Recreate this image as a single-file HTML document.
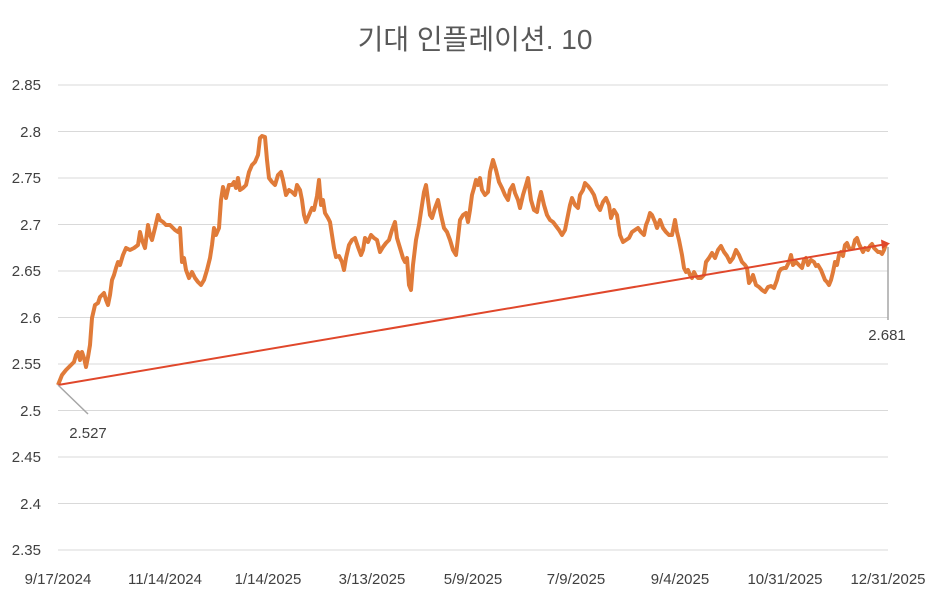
<!DOCTYPE html>
<html><head><meta charset="utf-8"><style>
body{margin:0;background:#fff;}
svg{display:block;font-family:"Liberation Sans","Noto Sans CJK KR",sans-serif;}
</style></head><body>
<svg width="950" height="602" viewBox="0 0 950 602">
<rect width="950" height="602" fill="#fff"/>
<text x="475" y="49" text-anchor="middle" font-size="28" fill="#595959">기대 인플레이션. 10</text>
<g stroke="#d9d9d9" stroke-width="1">
<line x1="58" x2="888" y1="85" y2="85"/><line x1="58" x2="888" y1="131.5" y2="131.5"/>
<line x1="58" x2="888" y1="178" y2="178"/><line x1="58" x2="888" y1="224.5" y2="224.5"/>
<line x1="58" x2="888" y1="271" y2="271"/><line x1="58" x2="888" y1="317.5" y2="317.5"/>
<line x1="58" x2="888" y1="364" y2="364"/><line x1="58" x2="888" y1="410.5" y2="410.5"/>
<line x1="58" x2="888" y1="457" y2="457"/><line x1="58" x2="888" y1="503.5" y2="503.5"/>
<line x1="58" x2="888" y1="550" y2="550"/>
</g>
<g font-size="15" fill="#404040" text-anchor="end">
<text x="41" y="90">2.85</text><text x="41" y="137">2.8</text><text x="41" y="183">2.75</text>
<text x="41" y="230">2.7</text><text x="41" y="276">2.65</text><text x="41" y="323">2.6</text>
<text x="41" y="369">2.55</text><text x="41" y="416">2.5</text><text x="41" y="462">2.45</text>
<text x="41" y="509">2.4</text><text x="41" y="555">2.35</text>
</g>
<g font-size="15" fill="#404040" text-anchor="middle">
<text x="58" y="584">9/17/2024</text><text x="165" y="584">11/14/2024</text><text x="268" y="584">1/14/2025</text>
<text x="372" y="584">3/13/2025</text><text x="473" y="584">5/9/2025</text><text x="576" y="584">7/9/2025</text>
<text x="680" y="584">9/4/2025</text><text x="785" y="584">10/31/2025</text><text x="888" y="584">12/31/2025</text>
</g>
<polyline fill="none" stroke="#E07B39" stroke-width="4" stroke-linejoin="round" points="58,385 62,375 66,370 70,366 74,362 76,355 78,352 80,360 82,352 84,358 86,367 88,357 90,345 92,318 95,305 98,303 100,297 104,293 106,300 108,305 110,295 112,280 114,275 116,268 118,262 120,265 123,255 126,248 130,250 134,248 138,245 140,232 142,240 145,248 148,225 150,235 152,240 155,228 158,215 160,220 163,222 166,225 170,225 175,230 178,232 180,228 182,262 184,258 186,270 189,278 192,272 195,278 198,282 201,285 204,280 207,270 210,258 212,245 214,228 216,235 219,228 221,200 223,187 226,198 229,185 232,185 234,182 236,188 238,178 240,190 243,188 246,185 249,172 252,165 255,162 258,155 260,138 262,136 265,137 267,160 269,178 272,182 275,185 278,175 281,172 283,180 286,195 289,190 292,192 295,195 297,185 300,190 302,200 304,215 306,222 309,215 312,208 314,210 317,196 319,180 321,205 323,200 325,213 328,218 330,222 332,235 334,248 336,257 339,256 342,262 344,270 346,258 349,245 352,240 355,238 358,247 361,255 363,250 365,238 368,242 371,235 374,238 377,240 380,252 383,247 386,243 389,240 392,230 395,222 397,238 400,248 403,258 405,262 407,258 409,285 411,290 413,265 416,240 419,225 422,205 424,192 426,185 428,200 430,215 432,218 435,208 438,200 441,215 444,228 447,232 450,240 453,250 456,255 458,238 460,220 463,215 466,213 468,222 470,210 472,195 474,188 476,180 478,185 480,178 482,190 485,195 488,192 490,172 493,160 496,170 499,182 502,188 505,195 508,200 510,190 513,185 515,193 518,200 520,208 523,195 526,185 528,178 531,200 534,210 537,212 539,200 541,192 544,205 547,215 550,220 553,222 556,226 559,230 562,235 565,230 567,220 570,205 572,198 575,205 578,208 580,195 583,190 585,183 588,186 591,190 594,195 597,205 600,210 603,202 606,198 609,205 611,218 614,210 617,215 620,235 623,242 626,240 629,238 632,232 635,230 638,228 641,232 644,235 646,225 648,220 650,213 652,215 655,222 657,228 660,220 663,228 666,232 669,235 672,235 675,220 677,232 679,240 682,255 684,268 686,272 688,270 690,275 692,278 694,272 696,276 698,278 701,278 704,275 706,262 709,258 712,253 715,258 718,250 721,246 724,252 727,256 730,262 733,258 736,250 739,255 742,262 745,265 747,268 749,283 751,280 753,275 756,285 759,287 762,290 765,292 768,287 771,286 774,288 777,280 779,272 781,269 784,268 786,268 789,262 791,255 793,265 796,262 799,265 802,268 804,260 806,258 808,265 811,260 814,262 816,266 818,265 821,270 823,275 825,280 827,282 829,285 831,280 833,272 835,262 837,265 839,255 841,252 843,256 845,245 847,243 849,248 851,249 853,248 855,240 857,238 859,244 861,248 863,252 865,248 868,250 870,246 872,244 874,248 876,250 878,252 880,252 882,254 884,250 886,244"/>
<line x1="58" y1="385" x2="884" y2="244.5" stroke="#E0472B" stroke-width="2"/>
<polygon points="890,243.5 881,239.5 882,249" fill="#E0472B"/>
<line x1="58" y1="385" x2="88" y2="414" stroke="#a6a6a6" stroke-width="1.5"/>
<line x1="888" y1="247" x2="888" y2="320" stroke="#a6a6a6" stroke-width="1.5"/>
<text x="88" y="438" font-size="15" fill="#404040" text-anchor="middle">2.527</text>
<text x="887" y="340" font-size="15" fill="#404040" text-anchor="middle">2.681</text>
</svg>
</body></html>
